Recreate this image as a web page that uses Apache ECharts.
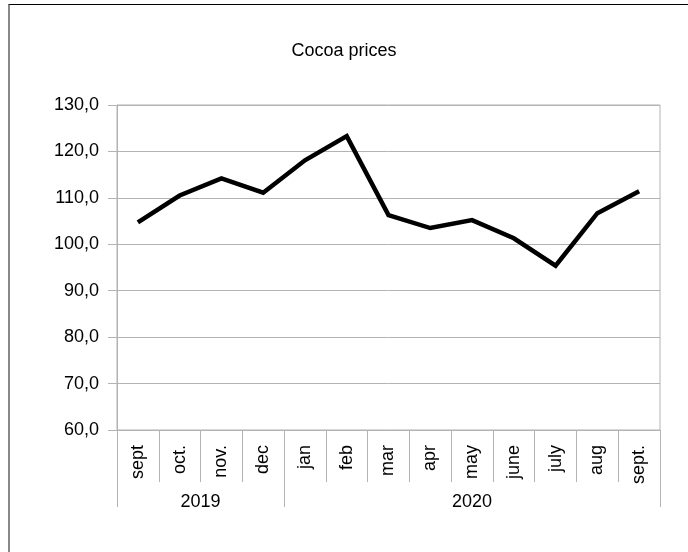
<!DOCTYPE html>
<html>
<head>
<meta charset="utf-8">
<script src="https://cdn.jsdelivr.net/npm/echarts@6/dist/echarts.min.js"></script>
<style>
  html, body { margin: 0; padding: 0; background: #fff; }
  #chart { position: absolute; left: 0; top: 0; width: 688px; height: 552px; }
  #frame { position: absolute; left: 8px; top: 4px; width: 678px; height: 600px;
           border-left: 2px solid #888; border-top: 1px solid #000; border-right: 1px solid #000;
           pointer-events: none; }
</style>
</head>
<body>
<div id="chart"></div>
<div id="frame"></div>
<script>
const months = ['sept', 'oct.', 'nov.', 'dec', 'jan', 'feb', 'mar', 'apr', 'may', 'june', 'july', 'aug', 'sept.'];
const prices = [104.7, 110.5, 114.2, 111.1, 118.1, 123.3, 106.3, 103.5, 105.2, 101.3, 95.4, 106.7, 111.4];
const years = ['2019', '2020'];
const yearCounts = [4, 9];
const yTicks = [60, 70, 80, 90, 100, 110, 120, 130];

// year group boundaries and centers derived from the counts
const yearBounds = [0];
const yearCenters = [];
yearCounts.forEach(function (c, i) {
  const start = yearBounds[yearBounds.length - 1];
  yearCenters.push(start + c / 2);
  yearBounds.push(start + c);
});

const FONT = '"Liberation Sans", Arial, sans-serif';
const GRAY = '#b3b3b3';

const chart = echarts.init(document.getElementById('chart'));
chart.setOption({
  animation: false,
  backgroundColor: '#fff',
  title: {
    text: 'Cocoa prices',
    left: 'center',
    top: 37,
    textStyle: { fontFamily: FONT, fontSize: 18, fontWeight: 'normal', color: '#000' }
  },
  grid: {
    left: 117, right: 28, top: 105, bottom: 122,
    show: true, borderColor: GRAY, borderWidth: 1, backgroundColor: 'transparent'
  },
  xAxis: [
    {
      type: 'category',
      data: months,
      boundaryGap: true,
      axisLine: { show: true, lineStyle: { color: GRAY, width: 1 } },
      axisTick: { show: true, length: 52, lineStyle: { color: GRAY, width: 1 } },
      axisLabel: {
        rotate: 90, margin: 15, interval: 0,
        fontFamily: FONT, fontSize: 18, color: '#000'
      },
      splitLine: { show: false }
    },
    {
      type: 'value',
      position: 'bottom',
      min: yearBounds[0],
      max: yearBounds[yearBounds.length - 1],
      axisLine: { show: false },
      axisTick: { show: true, length: 77, customValues: yearBounds, lineStyle: { color: GRAY, width: 1 } },
      axisLabel: {
        customValues: yearCenters,
        margin: 63,
        fontFamily: FONT, fontSize: 18, color: '#000',
        formatter: function (v) {
          const i = yearCenters.indexOf(v);
          return i >= 0 ? years[i] : '';
        }
      },
      splitLine: { show: false }
    }
  ],
  yAxis: {
    type: 'value',
    min: yTicks[0],
    max: yTicks[yTicks.length - 1],
    interval: 10,
    axisLine: { show: true, lineStyle: { color: GRAY, width: 1 } },
    axisTick: { show: true, length: 9, lineStyle: { color: GRAY, width: 1 } },
    axisLabel: {
      margin: 18,
      fontFamily: FONT, fontSize: 18, color: '#000',
      formatter: function (v) { return v.toFixed(1).replace('.', ','); }
    },
    splitLine: { show: true, lineStyle: { color: GRAY, width: 1 } }
  },
  series: [{
    type: 'line',
    data: prices,
    xAxisIndex: 0,
    showSymbol: false,
    symbol: 'none',
    lineStyle: { color: '#000', width: 4.5, join: 'miter' },
    itemStyle: { color: '#000' }
  }]
});
</script>
</body>
</html>
